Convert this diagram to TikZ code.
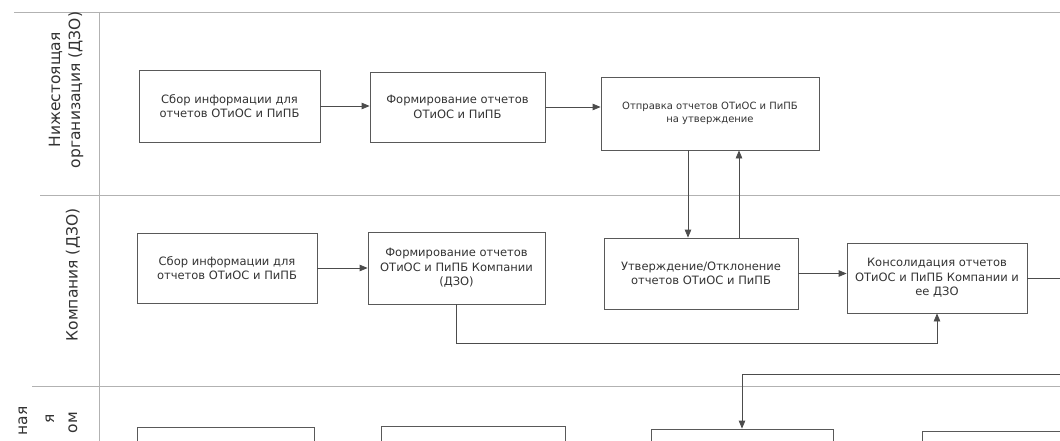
\documentclass[tikz,border=0pt]{standalone}
\usepackage{fontspec}
\setmainfont{DejaVu Sans}
\usetikzlibrary{arrows.meta,calc}

\begin{document}
\begin{tikzpicture}[x=1pt, y=-1pt,
    box/.style={draw=black!65, line width=0.8pt, align=center, inner sep=2pt, text=black!80, font=\fontsize{11.5}{14.5}\selectfont},
    smallBox/.style={box, font=\fontsize{10}{13}\selectfont},
    laneLabel/.style={rotate=90, align=center, inner sep=0pt, text=black!80, font=\fontsize{15.5}{20}\selectfont},
    laneLine/.style={draw=black!30, line width=0.7pt},
    arrow/.style={-{Triangle[length=8pt,width=6.5pt]}, line width=0.8pt, draw=black!70}
]
\useasboundingbox (0,0) rectangle (1060,441);
\fill[white] (0,0) rectangle (1060,441);
\draw[laneLine] (14,12) -- (1060,12);
\draw[laneLine] (40,195) -- (1060,195);
\draw[laneLine] (32,386) -- (1060,386);
\draw[laneLine] (99,12) -- (99,441);
\node[laneLabel] (laneSub) at (66,90) {Нижестоящая\\организация (ДЗО)};
\node[laneLabel] (laneCo) at (73,275) {Компания (ДЗО)};
\node[laneLabel, anchor=east] (laneLowA) at (23,406) {ная};
\node[laneLabel, anchor=east] (laneLowB) at (50,414) {я};
\node[laneLabel, anchor=east] (laneLowC) at (73,412) {ом};
\node[box, minimum width=181pt, minimum height=72pt] (collectSub) at (229.5,106) {%
  Сбор информации для\\отчетов ОТиОС и ПиПБ};
\node[box, minimum width=175pt, minimum height=70pt] (formSub) at (457.5,107) {%
  Формирование отчетов\\ОТиОС и ПиПБ};
\node[smallBox, minimum width=218pt, minimum height=73pt] (sendSub) at (710,113.5) {%
  Отправка отчетов ОТиОС и ПиПБ\\на утверждение};
\node[box, minimum width=180pt, minimum height=70pt] (collectCo) at (227,268) {%
  Сбор информации для\\отчетов ОТиОС и ПиПБ};
\node[box, minimum width=177pt, minimum height=72pt] (formCo) at (456.5,268) {%
  Формирование отчетов\\ОТиОС и ПиПБ Компании\\(ДЗО)};
\node[box, minimum width=194pt, minimum height=71pt] (approveCo) at (701,273.5) {%
  Утверждение/Отклонение\\отчетов ОТиОС и ПиПБ};
\node[box, minimum width=180pt, minimum height=70pt] (consolCo) at (937,278) {%
  Консолидация отчетов\\ОТиОС и ПиПБ Компании и\\ее ДЗО};
\node[box, minimum width=177pt, minimum height=70pt] (lowA) at (225.5,462) {};
\node[box, minimum width=184pt, minimum height=70pt] (lowB) at (473,461) {};
\node[box, minimum width=182pt, minimum height=70pt] (lowC) at (742,464) {};
\node[box, minimum width=180pt, minimum height=70pt] (lowD) at (1012,466) {};
\coordinate (downX) at (688,0);
\coordinate (upX) at (739,0);
\coordinate (rightTurn) at (1100,374);
\draw[arrow] (collectSub.east) -- (collectSub.east -| formSub.west);
\draw[arrow] (formSub.east) -- (formSub.east -| sendSub.west);
\draw[arrow] (sendSub.south -| downX) -- (approveCo.north -| downX);
\draw[arrow] (approveCo.north -| upX) -- (sendSub.south -| upX);
\draw[arrow] (collectCo.east) -- (collectCo.east -| formCo.west);
\draw[arrow] (approveCo.east) -- (approveCo.east -| consolCo.west);
\draw[arrow] (formCo.south) -- ++(0,39) -| (consolCo.south);
\draw[arrow] (consolCo.east) -| (rightTurn) -| (lowC.north);
\end{tikzpicture}
\end{document}
